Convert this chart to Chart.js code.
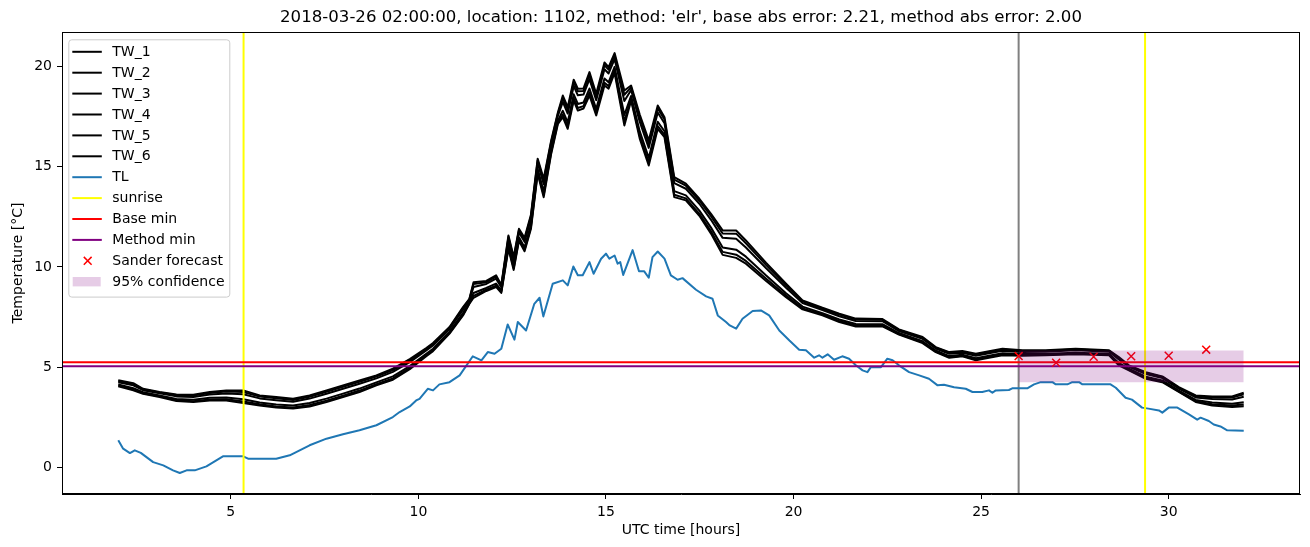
<!DOCTYPE html>
<html>
<head>
<meta charset="utf-8">
<title>TW / TL 2018-03-26 location 1102</title>
<script src="https://cdn.jsdelivr.net/npm/chart.js@4.4.1/dist/chart.umd.min.js"></script>
<style>
    html, body { margin: 0; padding: 0; background: #ffffff; }
    #wrap { width: 1310px; height: 547px; position: relative; }
</style>
</head>
<body>
<div id="wrap"><canvas id="tempChart"></canvas></div>
<script>
        // ---- data ----
        const titleText = "2018-03-26 02:00:00, location: 1102, method: 'elr', base abs error: 2.21, method abs error: 2.00";

        const xLimits = [0.5, 33.5];
        const yLimits = [-1.33, 21.72];
        const xTickValues = [5, 10, 15, 20, 25, 30];
        const yTickValues = [0, 5, 10, 15, 20];

        // shared time axis of the TW_* sensors (hours UTC)
        const twHours = [
            2.0, 2.4, 2.66, 3.1, 3.55, 4.0, 4.44, 4.88, 5.33, 5.77,
            6.21, 6.66, 7.1, 7.55, 7.99, 8.43, 8.88, 9.32, 9.77, 10.21,
            10.39, 10.83, 11.19, 11.36, 11.47, 11.81, 12.07, 12.21, 12.4, 12.54,
            12.68, 12.83, 13.0, 13.18, 13.34, 13.54, 13.72, 13.85, 13.98, 14.14,
            14.25, 14.4, 14.56, 14.74, 14.96, 15.07, 15.23, 15.49, 15.67, 15.9,
            16.14, 16.38, 16.56, 16.82, 17.13, 17.49, 17.8, 18.11, 18.47, 18.73,
            19.27, 19.8, 20.24, 20.77, 21.22, 21.66, 22.37, 22.81, 23.44, 23.79,
            24.15, 24.5, 24.86, 25.21, 25.57, 26.1, 26.72, 27.52, 28.41, 28.67,
            28.94, 29.39, 29.83, 30.27, 30.72, 31.16, 31.69, 32.0
        ];
        const TW_1 = [
            4.34, 4.20, 3.92, 3.76, 3.64, 3.62, 3.76, 3.84, 3.84, 3.59,
            3.51, 3.42, 3.59, 3.84, 4.09, 4.34, 4.59, 4.92, 5.40, 5.95,
            6.20, 7.00, 8.00, 8.41, 9.24, 9.30, 9.58, 9.10, 11.57, 10.50,
            11.90, 11.45, 12.60, 15.40, 14.40, 16.31, 17.72, 18.55, 17.97, 19.34,
            18.89, 18.90, 19.72, 18.64, 20.20, 19.97, 20.67, 18.80, 19.05, 17.60,
            16.31, 18.05, 17.47, 14.48, 14.15, 13.40, 12.65, 11.82, 11.82, 11.32,
            10.20, 9.16, 8.33, 7.96, 7.67, 7.42, 7.40, 6.88, 6.50, 6.00,
            5.75, 5.80, 5.67, 5.79, 5.92, 5.84, 5.84, 5.92, 5.84, 5.50,
            5.09, 4.75, 4.54, 4.00, 3.59, 3.54, 3.54, 3.72
        ];
        const TW_2 = [
            4.30, 4.16, 3.89, 3.73, 3.60, 3.58, 3.71, 3.78, 3.76, 3.53,
            3.45, 3.36, 3.52, 3.77, 4.02, 4.27, 4.53, 4.85, 5.34, 5.90,
            6.15, 6.96, 7.95, 8.38, 9.15, 9.24, 9.51, 9.05, 11.49, 10.42,
            11.83, 11.37, 12.52, 15.31, 14.29, 16.23, 17.65, 18.42, 17.84, 19.22,
            18.76, 18.78, 19.58, 18.51, 20.06, 19.84, 20.55, 18.59, 18.96, 17.46,
            16.16, 17.91, 17.35, 14.36, 14.05, 13.30, 12.53, 11.67, 11.66, 11.18,
            10.09, 9.08, 8.28, 7.91, 7.62, 7.37, 7.36, 6.85, 6.46, 5.97,
            5.72, 5.77, 5.63, 5.75, 5.88, 5.81, 5.81, 5.89, 5.81, 5.45,
            5.06, 4.71, 4.51, 3.97, 3.55, 3.49, 3.48, 3.64
        ];
        const TW_3 = [
            4.25, 4.09, 3.85, 3.69, 3.54, 3.51, 3.63, 3.69, 3.65, 3.44,
            3.35, 3.27, 3.43, 3.67, 3.92, 4.17, 4.44, 4.76, 5.25, 5.83,
            6.08, 6.90, 7.87, 8.34, 9.00, 9.15, 9.41, 8.98, 11.37, 10.31,
            11.72, 11.25, 12.39, 15.18, 14.12, 16.11, 17.55, 18.23, 17.65, 19.03,
            18.56, 18.60, 19.37, 18.32, 19.86, 19.65, 20.37, 18.28, 18.83, 17.24,
            15.94, 17.70, 17.17, 14.18, 13.90, 13.15, 12.35, 11.45, 11.41, 10.97,
            9.93, 8.96, 8.20, 7.85, 7.54, 7.30, 7.29, 6.80, 6.41, 5.93,
            5.67, 5.72, 5.57, 5.69, 5.82, 5.76, 5.77, 5.84, 5.77, 5.38,
            5.02, 4.65, 4.45, 3.93, 3.49, 3.41, 3.38, 3.52
        ];
        const TW_4 = [
            4.13, 3.95, 3.75, 3.59, 3.41, 3.37, 3.47, 3.49, 3.40, 3.24,
            3.14, 3.08, 3.21, 3.43, 3.68, 3.93, 4.24, 4.54, 5.05, 5.67,
            5.92, 6.77, 7.71, 8.24, 8.70, 8.95, 9.17, 8.82, 11.10, 10.05,
            11.48, 10.98, 12.11, 14.88, 13.76, 15.85, 17.31, 17.79, 17.21, 18.61,
            18.13, 18.20, 18.90, 17.88, 19.40, 19.21, 19.98, 17.58, 18.53, 16.76,
            15.44, 17.24, 16.77, 13.78, 13.57, 12.81, 11.96, 10.97, 10.86, 10.51,
            9.57, 8.69, 8.02, 7.69, 7.38, 7.15, 7.14, 6.70, 6.29, 5.83,
            5.55, 5.62, 5.44, 5.57, 5.69, 5.65, 5.67, 5.72, 5.67, 5.21,
            4.92, 4.52, 4.34, 3.83, 3.36, 3.23, 3.17, 3.25
        ];
        const TW_5 = [
            4.08, 3.88, 3.70, 3.54, 3.35, 3.30, 3.39, 3.40, 3.29, 3.15,
            3.04, 2.99, 3.11, 3.33, 3.58, 3.83, 4.15, 4.44, 4.96, 5.60,
            5.85, 6.71, 7.63, 8.19, 8.55, 8.86, 9.07, 8.75, 10.98, 9.93,
            11.37, 10.86, 11.98, 14.74, 13.59, 15.73, 17.21, 17.60, 17.02, 18.42,
            17.93, 18.02, 18.69, 17.69, 19.19, 19.02, 19.80, 17.27, 18.39, 16.54,
            15.21, 17.03, 16.59, 13.60, 13.42, 12.65, 11.78, 10.75, 10.61, 10.30,
            9.41, 8.57, 7.93, 7.63, 7.30, 7.08, 7.07, 6.65, 6.24, 5.78,
            5.50, 5.57, 5.38, 5.51, 5.63, 5.60, 5.63, 5.67, 5.63, 5.14,
            4.87, 4.46, 4.29, 3.79, 3.30, 3.15, 3.08, 3.13
        ];
        const TW_6 = [
            4.04, 3.84, 3.67, 3.51, 3.31, 3.26, 3.34, 3.34, 3.21, 3.09,
            2.98, 2.93, 3.04, 3.26, 3.51, 3.76, 4.09, 4.37, 4.90, 5.55,
            5.80, 6.67, 7.58, 8.16, 8.46, 8.80, 9.00, 8.70, 10.90, 9.85,
            11.30, 10.78, 11.90, 14.65, 13.48, 15.65, 17.14, 17.47, 16.89, 18.30,
            17.80, 17.90, 18.55, 17.56, 19.05, 18.89, 19.68, 17.06, 18.30, 16.40,
            15.06, 16.89, 16.47, 13.48, 13.32, 12.55, 11.66, 10.60, 10.45, 10.16,
            9.30, 8.49, 7.88, 7.58, 7.25, 7.03, 7.03, 6.62, 6.20, 5.75,
            5.47, 5.54, 5.34, 5.47, 5.59, 5.57, 5.59, 5.64, 5.59, 5.09,
            4.84, 4.42, 4.25, 3.76, 3.26, 3.09, 3.01, 3.05
        ];

        // air temperature TL
        const tlHours = [
            2.0, 2.13, 2.31, 2.44, 2.6, 2.93, 3.2, 3.46, 3.64, 3.82,
            4.04, 4.35, 4.79, 5.33, 5.46, 6.21, 6.57, 7.1, 7.55, 7.99,
            8.43, 8.88, 9.32, 9.5, 9.77, 9.94, 10.03, 10.25, 10.39, 10.56,
            10.83, 11.1, 11.45, 11.68, 11.85, 12.03, 12.21, 12.38, 12.56, 12.65,
            12.87, 13.09, 13.23, 13.33, 13.58, 13.85, 13.98, 14.13, 14.25, 14.38,
            14.56, 14.67, 14.87, 15.0, 15.09, 15.23, 15.31, 15.38, 15.46, 15.71,
            15.88, 16.02, 16.14, 16.24, 16.38, 16.56, 16.73, 16.91, 17.04, 17.4,
            17.67, 17.84, 17.98, 18.2, 18.3, 18.47, 18.64, 18.91, 19.13, 19.35,
            19.62, 19.89, 20.15, 20.33, 20.55, 20.68, 20.77, 20.91, 21.08, 21.3,
            21.48, 21.66, 21.84, 21.97, 22.06, 22.33, 22.5, 22.64, 22.81, 23.08,
            23.35, 23.61, 23.84, 24.01, 24.28, 24.59, 24.77, 25.03, 25.21, 25.3,
            25.39, 25.74, 25.83, 26.23, 26.41, 26.59, 26.9, 26.99, 27.3, 27.43,
            27.61, 27.7, 28.45, 28.59, 28.85, 29.02, 29.29, 29.46, 29.74, 29.83,
            30.0, 30.23, 30.54, 30.76, 30.85, 31.07, 31.2, 31.38, 31.56, 32.0
        ];
        const tlTemps = [
            1.35, 0.93, 0.71, 0.85, 0.72, 0.26, 0.1, -0.15, -0.28, -0.15,
            -0.15, 0.05, 0.55, 0.55, 0.43, 0.43, 0.6, 1.1, 1.43, 1.65,
            1.85, 2.1, 2.51, 2.76, 3.04, 3.34, 3.42, 3.92, 3.84, 4.14,
            4.25, 4.59, 5.54, 5.34, 5.75, 5.67, 5.92, 7.13, 6.37, 7.25,
            6.83, 8.16, 8.46, 7.53, 9.16, 9.33, 9.08, 10.02, 9.58, 9.58,
            10.24, 9.66, 10.41, 10.66, 10.41, 10.57, 10.16, 10.24, 9.6, 10.84,
            9.78, 9.78, 9.46, 10.49, 10.77, 10.41, 9.58, 9.36, 9.44, 8.86,
            8.53, 8.41, 7.58, 7.25, 7.08, 6.92, 7.41, 7.8, 7.83, 7.58,
            6.83, 6.33, 5.87, 5.84, 5.47, 5.59, 5.47, 5.64, 5.37, 5.54,
            5.42, 5.09, 4.84, 4.75, 5.0, 5.0, 5.42, 5.34, 5.09, 4.75,
            4.59, 4.42, 4.09, 4.12, 4.0, 3.92, 3.76, 3.76, 3.84, 3.72,
            3.84, 3.86, 3.94, 3.94, 4.14, 4.25, 4.25, 4.14, 4.14, 4.25,
            4.25, 4.14, 4.14, 3.97, 3.47, 3.38, 2.98, 2.93, 2.84, 2.73,
            2.98, 2.98, 2.64, 2.38, 2.48, 2.31, 2.14, 2.04, 1.85, 1.82
        ];

        const sunriseHours = [5.34, 29.37];
        const forecastHour = 26.0;
        const baseMin = 5.24;
        const methodMin = 5.04;

        const sanderHours = [26, 27, 28, 29, 30, 31];
        const sanderTemps = [5.55, 5.22, 5.52, 5.54, 5.57, 5.87];

        const confHours = [26, 32];
        const confLow = [4.24, 4.24];
        const confHigh = [5.83, 5.83];

        // ---- chart ----
        const FONT = "'DejaVu Sans', 'Liberation Sans', sans-serif";
        const toPoints = (xs, ys) => xs.map((x, i) => ({ x: x, y: ys[i] }));
        const vline = (h) => [{ x: h, y: yLimits[0] - 5 }, { x: h, y: yLimits[1] + 5 }];
        const hline = (v) => [{ x: xLimits[0] - 5, y: v }, { x: xLimits[1] + 5, y: v }];

        const lineBase = {
            type: "line",
            borderWidth: 2,
            pointRadius: 0,
            tension: 0,
            fill: false,
            borderJoinStyle: "round",
        };

        const datasets = [];

        datasets.push(Object.assign({}, lineBase, {
            label: "forecast", data: vline(forecastHour), borderColor: "#808080", order: 30,
        }));

        [TW_1, TW_2, TW_3, TW_4, TW_5, TW_6].forEach((vals, i) => {
            datasets.push(Object.assign({}, lineBase, {
                label: "TW_" + (i + 1),
                data: toPoints(twHours, vals),
                borderColor: "#000000",
                order: 20,
                legendType: "line",
            }));
        });

        datasets.push(Object.assign({}, lineBase, {
            label: "TL", data: toPoints(tlHours, tlTemps), borderColor: "#1f77b4", order: 19, legendType: "line",
        }));

        sunriseHours.forEach((h, i) => {
            datasets.push(Object.assign({}, lineBase, {
                label: "sunrise", data: vline(h), borderColor: "#ffff00", order: 18,
                legendType: i === 0 ? "line" : null,
            }));
        });

        datasets.push(Object.assign({}, lineBase, {
            label: "Base min", data: hline(baseMin), borderColor: "#ff0000", order: 17, legendType: "line",
        }));
        datasets.push(Object.assign({}, lineBase, {
            label: "Method min", data: hline(methodMin), borderColor: "#800080", order: 16, legendType: "line",
        }));

        datasets.push({
            type: "line",
            label: "Sander forecast",
            data: toPoints(sanderHours, sanderTemps),
            showLine: false,
            pointStyle: "crossRot",
            pointRadius: 5.6,
            pointBorderWidth: 1.5,
            borderColor: "#ff0000",
            pointBorderColor: "#ff0000",
            order: 15,
            legendType: "marker",
        });

        datasets.push(Object.assign({}, lineBase, {
            label: "conf low", data: toPoints(confHours, confLow), borderWidth: 0, borderColor: "rgba(0,0,0,0)", order: 14,
        }));
        datasets.push(Object.assign({}, lineBase, {
            label: "95% confidence", data: toPoints(confHours, confHigh), borderWidth: 0,
            borderColor: "rgba(0,0,0,0)", backgroundColor: "rgba(128,0,128,0.2)", fill: "-1", order: 13,
            legendType: "patch",
        }));

        // frame round the plot area (matplotlib spines)
        const framePlugin = {
            id: "frame",
            afterDatasetsDraw(chart) {
                const { ctx, chartArea: a } = chart;
                ctx.save();
                ctx.strokeStyle = "#000000";
                ctx.lineWidth = 1;
                ctx.strokeRect(Math.round(a.left) + 0.5, Math.round(a.top) + 0.5,
                    Math.round(a.right - a.left) - 1, Math.round(a.bottom - a.top) - 1);
                ctx.restore();
            },
        };

        // legend box inside the axes, upper left
        const boxLegendPlugin = {
            id: "boxLegend",
            afterDraw(chart) {
                const { ctx, chartArea: a } = chart;
                const items = chart.data.datasets.filter((d) => d.legendType);
                const left = a.left + 6.3, top = a.top + 7.3;
                const rowH = 20.9, w = 161, h = items.length * rowH + 6.5;
                ctx.save();
                ctx.beginPath();
                ctx.roundRect(left + 0.5, top + 0.5, w, h, 3);
                ctx.fillStyle = "rgba(255,255,255,0.8)";
                ctx.fill();
                ctx.strokeStyle = "#cccccc";
                ctx.lineWidth = 1;
                ctx.stroke();

                items.forEach((d, i) => {
                    const cy = top + 12.5 + i * rowH;
                    if (d.legendType === "line") {
                        ctx.strokeStyle = d.borderColor;
                        ctx.lineWidth = 2;
                        ctx.beginPath();
                        ctx.moveTo(left + 4, cy);
                        ctx.lineTo(left + 33.5, cy);
                        ctx.stroke();
                    } else if (d.legendType === "marker") {
                        const cx = left + 19.4, r = 3.9;
                        ctx.strokeStyle = d.pointBorderColor;
                        ctx.lineWidth = 1.5;
                        ctx.beginPath();
                        ctx.moveTo(cx - r, cy - r);
                        ctx.lineTo(cx + r, cy + r);
                        ctx.moveTo(cx - r, cy + r);
                        ctx.lineTo(cx + r, cy - r);
                        ctx.stroke();
                    } else if (d.legendType === "patch") {
                        ctx.fillStyle = d.backgroundColor;
                        ctx.fillRect(left + 4.4, cy - 4.7, 28, 9.4);
                    }
                    ctx.fillStyle = "#000000";
                    ctx.font = "14px " + FONT;
                    ctx.textBaseline = "middle";
                    ctx.textAlign = "left";
                    ctx.fillText(d.label, left + 44, cy + 0.5);
                });
                ctx.restore();
            },
        };

        const axisFont = { family: FONT, size: 14 };

        const ctx = document.getElementById("tempChart").getContext("2d");
        const tempChart = new Chart(ctx, {
            type: "line",
            data: { datasets: datasets },
            options: {
                responsive: true,
                maintainAspectRatio: false,
                animation: false,
                events: [],
                layout: { padding: { left: 0, right: 10, top: 0, bottom: 0 } },
                plugins: {
                    legend: { display: false },
                    tooltip: { enabled: false },
                    title: {
                        display: true,
                        fullSize: false,
                        text: titleText,
                        color: "#000000",
                        font: { family: FONT, size: 16.6, weight: "normal", lineHeight: "18px" },
                        padding: { top: 9, bottom: 5 },
                    },
                },
                scales: {
                    x: {
                        type: "linear",
                        min: xLimits[0],
                        max: xLimits[1],
                        bounds: "data",
                        afterBuildTicks: (s) => { s.ticks = xTickValues.map((v) => ({ value: v })); },
                        afterFit: (s) => { s.height = 53; },
                        grid: { display: true, drawOnChartArea: false, drawTicks: true, tickLength: 5, color: "#000000", lineWidth: 1 },
                        border: { display: true, color: "#000000", width: 1 },
                        ticks: { color: "#000000", font: axisFont, padding: 5, maxRotation: 0, autoSkip: false },
                        title: { display: true, text: "UTC time [hours]", color: "#000000", font: axisFont, padding: { top: 2, bottom: 8 } },
                    },
                    y: {
                        type: "linear",
                        min: yLimits[0],
                        max: yLimits[1],
                        bounds: "data",
                        afterBuildTicks: (s) => { s.ticks = yTickValues.map((v) => ({ value: v })); },
                        afterFit: (s) => { s.width = 62; },
                        grid: { display: true, drawOnChartArea: false, drawTicks: true, tickLength: 5, color: "#000000", lineWidth: 1 },
                        border: { display: true, color: "#000000", width: 1 },
                        ticks: { color: "#000000", font: axisFont, padding: 5, autoSkip: false },
                        title: { display: true, text: "Temperature [°C]", color: "#000000", font: axisFont, padding: { top: 10, bottom: 2 } },
                    },
                },
            },
            plugins: [framePlugin, boxLegendPlugin],
        });
</script>
</body>
</html>
